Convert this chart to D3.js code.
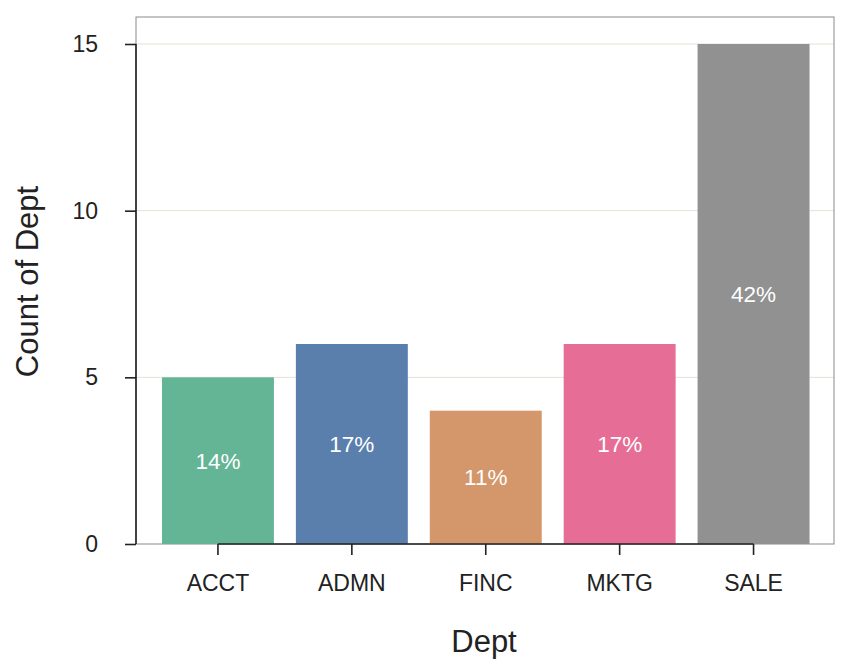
<!DOCTYPE html>
<html><head><meta charset="utf-8">
<script src="https://cdn.jsdelivr.net/npm/d3@7"></script>
<style>body{margin:0;background:#fff}svg{display:block;font-family:"Liberation Sans",Arial,sans-serif}</style>
</head><body><svg id="c" width="864" height="672"></svg>
<script>
const categories = ["ACCT","ADMN","FINC","MKTG","SALE"];
const counts = [5,6,4,6,15];
const pctLabels = ["14%","17%","11%","17%","42%"];
const colors = ["#64b496","#5a7fad","#d4966b","#e66e96","#919191"];
const yTicks = [0,5,10,15];

const svg = d3.select("#c");
const frame = {l:136, r:834, t:17, b:544};
const x = d3.scaleBand().domain(categories).range([151, 820.5]).paddingInner(0.164).paddingOuter(0.082);
const y = d3.scaleLinear().domain([0,15]).range([544,44]);

// grid
svg.append("g").selectAll("line").data(yTicks.filter(d=>d>0)).join("line")
  .attr("x1",frame.l).attr("x2",frame.r).attr("y1",d=>y(d)).attr("y2",d=>y(d))
  .attr("stroke","#e3e3d8").attr("stroke-width",1);

// frame
svg.append("rect").attr("x",frame.l).attr("y",frame.t).attr("width",frame.r-frame.l).attr("height",frame.b-frame.t)
  .attr("fill","none").attr("stroke","#8a8a8a").attr("stroke-width",1);

// bars
svg.append("g").selectAll("rect").data(categories).join("rect")
  .attr("x",d=>x(d)).attr("width",x.bandwidth())
  .attr("y",(d,i)=>y(counts[i])).attr("height",(d,i)=>y(0)-y(counts[i]))
  .attr("fill",(d,i)=>colors[i]);

// labels
svg.append("g").selectAll("text").data(categories).join("text")
  .attr("x",d=>x(d)+x.bandwidth()/2).attr("y",(d,i)=>y(counts[i]/2))
  .attr("dy","0.35em").attr("text-anchor","middle").attr("fill","#fff")
  .attr("font-size",22.5).text((d,i)=>pctLabels[i]);

// y axis
const ya = svg.append("g").attr("transform",`translate(${frame.l},0)`)
  .call(d3.axisLeft(y).tickValues(yTicks).tickSize(11).tickPadding(27).tickFormat(d3.format("d")));
ya.select(".domain").attr("d",`M0,${y(15)}V${y(0)}`).attr("stroke","#222").attr("stroke-width",1.6);
ya.selectAll(".tick line").attr("stroke","#222").attr("stroke-width",1.6);
ya.selectAll(".tick text").attr("font-size",23).attr("fill","#222").attr("font-family","Liberation Sans, Arial, sans-serif");

// x axis
const xa = svg.append("g").attr("transform",`translate(0,${frame.b})`)
  .call(d3.axisBottom(x).tickSize(11).tickPadding(19.5));
const c0 = x(categories[0])+x.bandwidth()/2, c1 = x(categories[4])+x.bandwidth()/2;
xa.select(".domain").attr("d",`M${c0},0H${c1}`).attr("stroke","#222").attr("stroke-width",1.6);
xa.selectAll(".tick line").attr("stroke","#222").attr("stroke-width",1.6);
xa.selectAll(".tick text").attr("font-size",23).attr("fill","#222").attr("font-family","Liberation Sans, Arial, sans-serif");

// titles
svg.append("text").attr("x",484).attr("y",652).attr("text-anchor","middle")
  .attr("font-size",31).attr("fill","#222").text("Dept");
svg.append("text").attr("transform","translate(38,281.5) rotate(-90)").attr("text-anchor","middle")
  .attr("font-size",31).attr("fill","#222").text("Count of Dept");
</script></body></html>
